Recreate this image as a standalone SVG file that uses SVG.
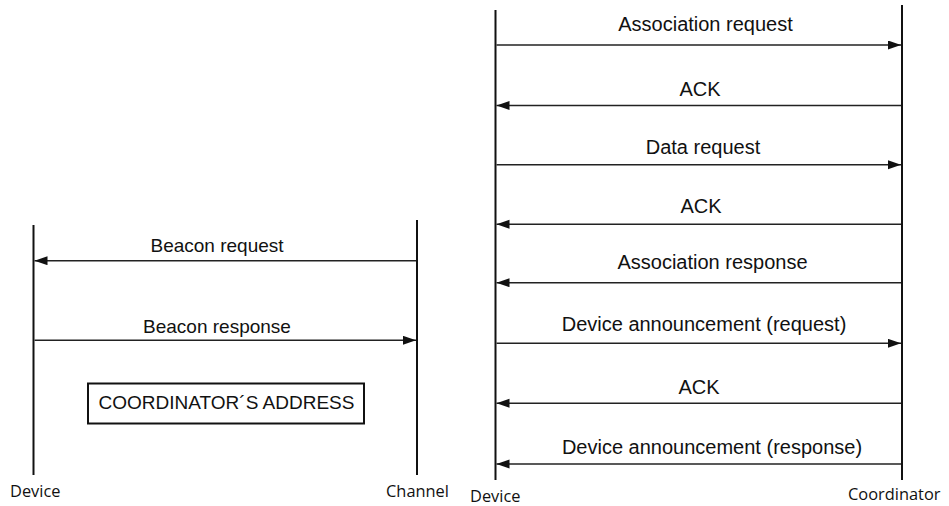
<svg xmlns="http://www.w3.org/2000/svg" width="949" height="506" viewBox="0 0 949 506">
  <style>
    .life { stroke: #111; stroke-width: 2; fill: none; }
    .msg { stroke: #222; stroke-width: 1.5; fill: none; marker-end: url(#head); }
    .lbl { font-family: "Liberation Sans", Arial, sans-serif; fill: #111; text-anchor: middle; }
    .lbl-r { font-size: 20px; }
    .lbl-l { font-size: 19px; }
    .name { font-family: "Open Sans", "Noto Sans", sans-serif; font-size: 16.4px; fill: #111; }
    .box { fill: #fff; stroke: #111; stroke-width: 2; }
  </style>
  <defs>
    <marker id="head" markerUnits="userSpaceOnUse" markerWidth="14" markerHeight="10" refX="13" refY="4.5" orient="auto">
      <path d="M0,0 L13,4.5 L0,9 Z" fill="#111"/>
    </marker>
  </defs>
  <rect width="949" height="506" fill="#fff"/>

  <!-- Scan phase: device and channel lifelines -->
  <g id="scan-device">
    <line class="life" x1="33.5" y1="225" x2="33.5" y2="475"/>
    <text class="name" x="10" y="497">Device</text>
  </g>
  <g id="scan-channel">
    <line class="life" x1="417" y1="220" x2="417" y2="475"/>
    <text class="name" x="386" y="497">Channel</text>
  </g>
  <g id="coordinator-address">
    <rect class="box" x="88" y="383.5" width="276" height="40"/>
    <text class="lbl lbl-l" x="226.5" y="408.5">COORDINATOR´S ADDRESS</text>
  </g>

  <!-- Association phase: device and coordinator lifelines -->
  <g id="assoc-device">
    <line class="life" x1="495.5" y1="10" x2="495.5" y2="480"/>
    <text class="name" x="470" y="502">Device</text>
  </g>
  <g id="assoc-coordinator">
    <line class="life" x1="902" y1="5" x2="902" y2="480"/>
    <text class="name" x="848" y="500">Coordinator</text>
  </g>

  <!-- Messages -->
  <g id="connectors">
    <line class="msg" x1="416" y1="260.7" x2="34.5" y2="260.7"/>
    <text class="lbl lbl-l" x="217" y="251.7">Beacon request</text>
    <line class="msg" x1="34.5" y1="340.3" x2="416" y2="340.3"/>
    <text class="lbl lbl-l" x="217" y="332.7">Beacon response</text>

    <line class="msg" x1="496.5" y1="45" x2="901" y2="45"/>
    <text class="lbl lbl-r" x="705.5" y="31">Association request</text>
    <line class="msg" x1="901" y1="105.5" x2="496.5" y2="105.5"/>
    <text class="lbl lbl-r" x="700" y="95.7">ACK</text>
    <line class="msg" x1="496.5" y1="164.7" x2="901" y2="164.7"/>
    <text class="lbl lbl-r" x="703" y="154">Data request</text>
    <line class="msg" x1="901" y1="224.3" x2="496.5" y2="224.3"/>
    <text class="lbl lbl-r" x="701" y="212.7">ACK</text>
    <line class="msg" x1="901" y1="282.7" x2="496.5" y2="282.7"/>
    <text class="lbl lbl-r" x="712.5" y="269">Association response</text>
    <line class="msg" x1="496.5" y1="343.3" x2="901" y2="343.3"/>
    <text class="lbl lbl-r" x="704" y="331">Device announcement (request)</text>
    <line class="msg" x1="901" y1="403.3" x2="496.5" y2="403.3"/>
    <text class="lbl lbl-r" x="699" y="394.3">ACK</text>
    <line class="msg" x1="901" y1="464" x2="496.5" y2="464"/>
    <text class="lbl lbl-r" x="712" y="454">Device announcement (response)</text>
  </g>
</svg>
